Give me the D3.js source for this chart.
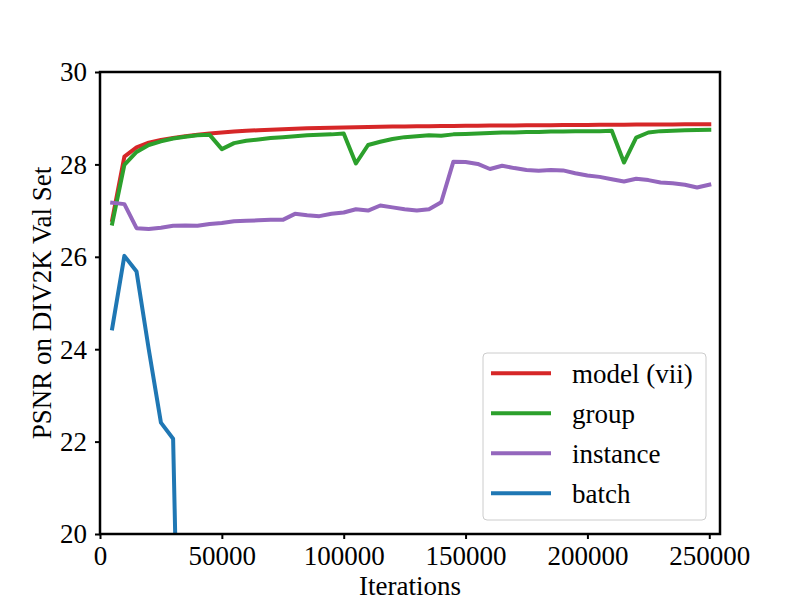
<!DOCTYPE html>
<html>
<head>
<meta charset="utf-8">
<script src="https://cdn.jsdelivr.net/npm/d3@7"></script>
<style>
  body { margin: 0; background: #fff; }
  svg text { font-family: "Liberation Serif", "Times New Roman", serif; }
</style>
</head>
<body>
<svg id="chart" width="800" height="600"></svg>
<script>
// x values (training iterations)
const iterations = [
  5000, 10000, 15000, 20000, 25000, 30000, 35000, 40000, 45000, 50000,
  55000, 60000, 65000, 70000, 75000, 80000, 85000, 90000, 95000, 100000,
  105000, 110000, 115000, 120000, 125000, 130000, 135000, 140000, 145000, 150000,
  155000, 160000, 165000, 170000, 175000, 180000, 185000, 190000, 195000, 200000,
  205000, 210000, 215000, 220000, 225000, 230000, 235000, 240000, 245000, 250000
];

const modelPsnr = [
  26.8, 28.17, 28.37, 28.47, 28.53, 28.57, 28.61, 28.64, 28.67, 28.69,
  28.71, 28.73, 28.74, 28.75, 28.76, 28.77, 28.78, 28.79, 28.795, 28.80,
  28.805, 28.81, 28.815, 28.82, 28.822, 28.825, 28.828, 28.83, 28.833, 28.836,
  28.838, 28.84, 28.842, 28.844, 28.846, 28.848, 28.85, 28.851, 28.853, 28.855,
  28.856, 28.858, 28.86, 28.861, 28.863, 28.865, 28.866, 28.867, 28.868, 28.87
];

const groupPsnr = [
  26.72, 27.99, 28.27, 28.42, 28.50, 28.56, 28.60, 28.63, 28.64, 28.33,
  28.46, 28.51, 28.54, 28.57, 28.59, 28.61, 28.63, 28.64, 28.65, 28.67,
  28.02, 28.42, 28.49, 28.55, 28.59, 28.61, 28.63, 28.62, 28.65, 28.66,
  28.67, 28.68, 28.69, 28.69, 28.70, 28.70, 28.71, 28.71, 28.72, 28.72,
  28.72, 28.73, 28.04, 28.58, 28.69, 28.72, 28.73, 28.74, 28.745, 28.75
];

const instancePsnr = [
  27.17, 27.14, 26.62, 26.60, 26.63, 26.67, 26.68, 26.67, 26.71, 26.73,
  26.77, 26.78, 26.79, 26.80, 26.80, 26.93, 26.90, 26.88, 26.93, 26.96,
  27.03, 27.00, 27.11, 27.07, 27.03, 27.00, 27.03, 27.18, 28.06, 28.05,
  28.01, 27.90, 27.97, 27.92, 27.88, 27.86, 27.88, 27.87, 27.81, 27.76,
  27.73, 27.68, 27.63, 27.69, 27.66, 27.61, 27.59, 27.56, 27.50, 27.56
];

// batch norm collapses, runs off the bottom of the plot
const batchIterations = [5000, 10000, 15000, 20000, 25000, 30000, 35000];
const batchPsnr = [24.45, 26.02, 25.68, 24.0, 22.41, 22.06, 10.0];

const xTicks = [0, 50000, 100000, 150000, 200000, 250000];
const yTicks = [20, 22, 24, 26, 28, 30];

const series = [
  { name: "model (vii)", color: "#d62728", xs: iterations, ys: modelPsnr },
  { name: "group", color: "#2ca02c", xs: iterations, ys: groupPsnr },
  { name: "instance", color: "#9467bd", xs: iterations, ys: instancePsnr },
  { name: "batch", color: "#1f77b4", xs: batchIterations, ys: batchPsnr }
];

const svg = d3.select("svg#chart");
const plotLeft = 100, plotRight = 720, plotTop = 72, plotBottom = 534;

const xScale = d3.scaleLinear().domain([0, 254400]).range([plotLeft, plotRight]);
const yScale = d3.scaleLinear().domain([20, 30]).range([plotBottom, plotTop]);

svg.append("defs").append("clipPath").attr("id", "plot-area")
  .append("rect")
  .attr("x", plotLeft).attr("y", plotTop)
  .attr("width", plotRight - plotLeft).attr("height", plotBottom - plotTop);

const line = d3.line()
  .x(function (d) { return xScale(d[0]); })
  .y(function (d) { return yScale(d[1]); });

const lines = svg.append("g").attr("clip-path", "url(#plot-area)");
series.forEach((s) => {
  lines.append("path")
    .datum(s.xs.map((x, i) => [x, s.ys[i]]))
    .attr("d", line)
    .attr("fill", "none")
    .attr("stroke", s.color)
    .attr("stroke-width", 4)
    .attr("stroke-linejoin", "round")
    .attr("stroke-linecap", "square");
});

// axes
const xAxis = svg.append("g")
  .attr("transform", "translate(0," + plotBottom + ")")
  .call(d3.axisBottom(xScale).tickValues(xTicks).tickFormat(d3.format("d")).tickSize(5).tickPadding(7));
const yAxis = svg.append("g")
  .attr("transform", "translate(" + plotLeft + ",0)")
  .call(d3.axisLeft(yScale).tickValues(yTicks).tickFormat(d3.format("d")).tickSize(5).tickPadding(8));

[xAxis, yAxis].forEach((g) => {
  g.select(".domain").remove();
  g.selectAll(".tick line").attr("stroke", "#000").attr("stroke-width", 2);
  g.selectAll(".tick text")
    .attr("fill", "#000")
    .style("font-size", "27px")
    .style("font-family", "'Liberation Serif', serif");
});
xAxis.selectAll(".tick text").attr("dy", "0.72em");
yAxis.selectAll(".tick text").attr("dy", "0.33em");

// frame
svg.append("rect")
  .attr("x", plotLeft).attr("y", plotTop)
  .attr("width", plotRight - plotLeft).attr("height", plotBottom - plotTop)
  .attr("fill", "none")
  .attr("stroke", "#000")
  .attr("stroke-width", 2.5);

// axis labels
svg.append("text")
  .attr("x", (plotLeft + plotRight) / 2)
  .attr("y", 595)
  .attr("text-anchor", "middle")
  .style("font-size", "27px")
  .text("Iterations");

svg.append("text")
  .attr("transform", "translate(51," + (plotTop + plotBottom) / 2 + ") rotate(-90)")
  .attr("text-anchor", "middle")
  .style("font-size", "27px")
  .text("PSNR on DIV2K Val Set");

// legend
const legend = svg.append("g");
legend.append("rect")
  .attr("x", 483).attr("y", 353)
  .attr("width", 223).attr("height", 167)
  .attr("rx", 4)
  .attr("fill", "#fff").attr("fill-opacity", 0.8)
  .attr("stroke", "#cccccc").attr("stroke-width", 1);

series.forEach((s, i) => {
  const yRow = 373.3 + i * 40;
  legend.append("line")
    .attr("x1", 491).attr("x2", 551)
    .attr("y1", yRow).attr("y2", yRow)
    .attr("stroke", s.color)
    .attr("stroke-width", 4);
  legend.append("text")
    .attr("x", 572)
    .attr("y", yRow + 9.5)
    .style("font-size", "27px")
    .text(s.name);
});
</script>
</body>
</html>
